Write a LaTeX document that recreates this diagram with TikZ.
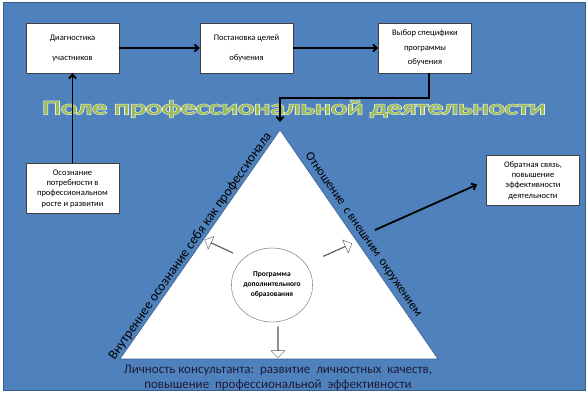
\documentclass[tikz,border=0pt]{standalone}
\usepackage{fontspec}
\setmainfont{Carlito}
\newfontface\titleface{Carlito}[FakeBold=1.5]
\newfontface\glowface{Carlito}[FakeBold=7]
\usepackage{tikz}
\usetikzlibrary{arrows.meta,shapes,positioning}
\definecolor{fieldblue}{HTML}{4F81BD}
\definecolor{fieldedge}{HTML}{385D8A}
\definecolor{titlegreen}{HTML}{9BBB59}
\definecolor{titleglow}{HTML}{EBF1DE}
\definecolor{capnavy}{HTML}{1C1C38}
\newcommand{\fieldtitle}{Поле профессиональной деятельности}

\begin{document}
\begin{tikzpicture}[x=1pt,y=-1pt,
  stagebox/.style={draw=black!75,fill=white,minimum width=93pt,minimum height=50pt,
    inner sep=2pt,align=center,font=\fontsize{8.5}{20}\selectfont},
  flow/.style={draw=black,line width=1.8pt,-{Straight Barb[length=4pt,width=7pt]}},
  hollow/.style={single arrow,draw=black!65,fill=white,inner sep=0pt,
    minimum height=31pt,minimum width=14pt,single arrow head extend=3.5pt},
  sidetext/.style={font=\fontsize{13.5}{16}\selectfont,inner sep=1pt}]
\useasboundingbox (0,0) rectangle (587,395);
\filldraw[fill=fieldblue,draw=fieldedge,line width=0.8pt] (3,2) rectangle (585,390);

% top row
\node[stagebox] (diag) at (72.5,48) {Диагностика\\участников};
\node[stagebox] (goals) at (246.5,48) {Постановка целей\\обучения};
\node[stagebox,font=\fontsize{8.5}{14.5}\selectfont] (choice) at (425,48) {Выбор специфики\\программы\\обучения};
\node[stagebox,font=\fontsize{8.5}{10.3}\selectfont] (need) at (72.5,188.5) {Осознание\\потребности в\\профессиональном\\росте и развитии};
\node[stagebox,font=\fontsize{8.5}{10.3}\selectfont] (feedback) at (533,180.5) {Обратная связь,\\повышение\\эффективности\\деятельности};

% title with glow
\node[font=\glowface\fontsize{20}{22}\selectfont,text=titleglow] (titleglow) at (294,109)
  {\scalebox{1.52}[1]{\fieldtitle}};
\node[font=\titleface\fontsize{20}{22}\selectfont,text=titlegreen] (title) at (294,109)
  {\scalebox{1.52}[1]{\fieldtitle}};

% triangle
\coordinate (apex) at (280,130);
\coordinate (triL) at (120,359);
\coordinate (triR) at (438,359);
\coordinate (bend) at (280,98);
\coordinate (fbstart) at (375,230);
\filldraw[fill=white,draw=fieldedge,line width=0.6pt] (apex) -- (triL) -- (triR) -- cycle;

\path (triL) -- (apex) node[sidetext,pos=0.475,sloped,above] (inner) {Внутреннее осознание себя как профессионала};
\path (apex) -- (triR) node[sidetext,font=\fontsize{12.5}{15}\selectfont,pos=0.48,sloped,above=3pt] (outer) {Отношение\, с внешним\, окружением};

\node[ellipse,draw=black!60,fill=white,minimum width=81pt,minimum height=74pt,inner sep=0pt,
  align=center,font=\bfseries\fontsize{7.5}{10}\selectfont] (program) at (272,285)
  {Программа\\дополнительного\\образования};

\node[hollow,rotate=155] (toinner) at (219,246.5) {};
\node[hollow,rotate=24] (toouter) at (337.5,250) {};
\node[hollow,rotate=-90] (toself) at (278,342) {};

\node[align=center,text=capnavy,font=\fontsize{13}{15}\selectfont] (person) at (278,377.5)
  {Личность\ консультанта:\ \ развитие\ \ личностных\ \ качеств,\\повышение\ \ профессиональной\ \ эффективности};

% connectors
\draw[flow] (diag) -- (goals);
\draw[flow] (goals) -- (choice);
\draw[flow] ([xshift=4pt]choice.south) |- (bend) -- ([yshift=8pt]apex);
\draw[flow] (need) -- (diag);
\draw[flow,shorten >=10pt] (fbstart) -- (feedback.west);
\end{tikzpicture}
\end{document}
